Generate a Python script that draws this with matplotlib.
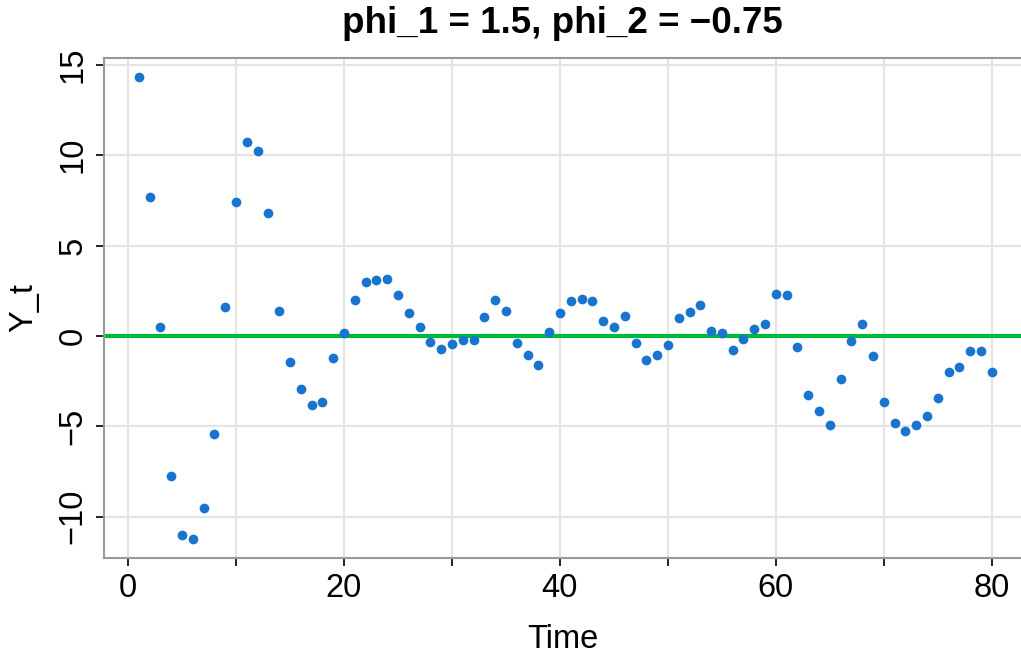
import numpy as np
import matplotlib
matplotlib.use('Agg')
from matplotlib import pyplot as plt

plt.rcParams['font.family'] = ['Liberation Sans', 'DejaVu Sans']

# simulated AR(2) series
time = np.arange(1, 81)
y_t = [14.35, 7.69, 0.50, -7.73, -11.01, -11.25, -9.54, -5.44, 1.60, 7.40,
       10.72, 10.26, 6.82, 1.40, -1.42, -2.93, -3.85, -3.65, -1.22, 0.15,
       2.01, 2.97, 3.08, 3.14, 2.26, 1.25, 0.48, -0.31, -0.70, -0.46,
       -0.22, -0.20, 1.07, 1.96, 1.38, -0.37, -1.03, -1.60, 0.20, 1.25,
       1.92, 2.03, 1.94, 0.83, 0.48, 1.09, -0.37, -1.31, -1.03, -0.50,
       1.00, 1.34, 1.69, 0.27, 0.15, -0.76, -0.15, 0.37, 0.68, 2.32,
       2.29, -0.61, -3.27, -4.17, -4.94, -2.40, -0.26, 0.65, -1.09, -3.65,
       -4.83, -5.29, -4.92, -4.41, -3.43, -1.99, -1.72, -0.85, -0.83, -1.99]
mean_level = 0
title = 'phi_1 = 1.5, phi_2 = \u22120.75'

fig = plt.figure(figsize=(10.21, 6.53), dpi=100)
ax = fig.add_axes([0.1019, 0.1455, 0.8981, 0.7657])

ax.set_xticks(np.arange(0, 81, 10))
ax.set_xticklabels(['0', '', '20', '', '40', '', '60', '', '80'])
ax.set_yticks([-10, -5, 0, 5, 10, 15])
ax.set_yticklabels(['\u221210', '\u22125', '0', '5', '10', '15'], rotation=90, va='center')
ax.grid(True, color='#e4e4e4', linewidth=1.5)
ax.set_axisbelow(True)

ax.axhline(mean_level, color='#00b93c', linewidth=3, zorder=2)
ax.plot(time, y_t, 'o', color='#1874cd', markersize=7, markeredgewidth=0, zorder=3)

ax.set_xlim(-2.22, 82.7)
ax.set_ylim(-12.29, 15.38)

for side in ['top', 'left', 'bottom']:
    ax.spines[side].set_color('#999999')
    ax.spines[side].set_linewidth(1.5)
ax.spines['right'].set_visible(False)
ax.tick_params(axis='both', direction='out', length=6, width=1.2, color='black',
               labelsize=23.5, pad=5)

ax.set_title(title, fontsize=26.5, fontweight='bold', pad=18)
ax.set_xlabel('Time', fontsize=23.5, labelpad=14)
ax.set_ylabel('Y_t', fontsize=23.5, labelpad=13)

plt.savefig('out.png', dpi=100)
